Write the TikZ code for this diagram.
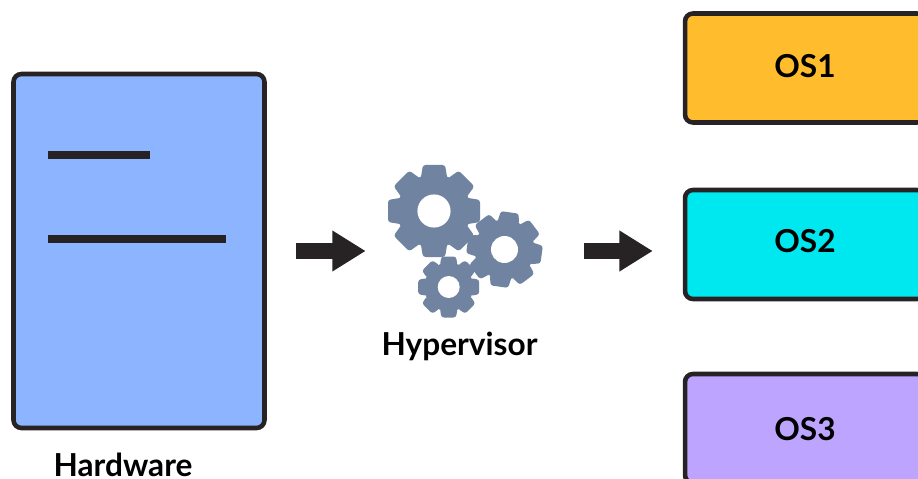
\documentclass[tikz,border=0pt]{standalone}
\usepackage{fontspec}
\setmainfont{Lato}
\usepackage{tikz}
\usetikzlibrary{arrows.meta}

\definecolor{edgegray}{HTML}{272324}
\definecolor{gearblue}{HTML}{7084A2}
\definecolor{hwblue}{HTML}{8CB4FF}
\definecolor{osyellow}{HTML}{FFBD2E}
\definecolor{oscyan}{HTML}{00E8EF}
\definecolor{ospurple}{HTML}{BDA4FF}

\tikzset{
  hwbox/.style={draw=edgegray,line width=2.6pt,rounded corners=4.5pt,inner sep=0pt},
  osbox/.style={hwbox,minimum width=4.8cm,minimum height=2.18cm},
  caption/.style={inner sep=0pt,font=\fontsize{18}{20}\selectfont\bfseries},
  bigarrow/.style={draw=edgegray,line width=9pt,-{Triangle[length=19pt,width=22pt]}},
  hwline/.style={draw=edgegray,line width=4.6pt}
}

% x, y, size, rotation
\newcommand{\gearwheel}[4]{
  \begin{scope}[shift={(#1,#2)},scale=#3,rotate=#4]
    \fill [gearblue] (0,0) circle (0.8);
    \foreach \a in {0,45,...,315}
      \fill [gearblue,rotate=\a,rounded corners=1.5pt] (-0.29,0.7) -- (-0.24,1) -- (0.24,1) -- (0.29,0.7) -- cycle;
    \fill [white] (0,0) circle (0.36);
  \end{scope}
}

\begin{document}
\begin{tikzpicture}[x=0.02cm,y=-0.02cm]
\useasboundingbox (0,0) rectangle (918,479);
\clip (0,0) rectangle (918,479);

% hardware
\node [hwbox,fill=hwblue,minimum width=5.02cm,minimum height=7.08cm] (hardware) at (139,251) {};
\coordinate (lineA) at (48,155);
\coordinate (lineB) at (48,239);
\draw [hwline] (lineA) -- +(102,0);
\draw [hwline] (lineB) -- +(178,0);
\node [caption,anchor=base] (hwlabel) at (123,476) {Hardware};

% hypervisor
\node [minimum width=3.08cm,minimum height=1pt,inner sep=0pt] (gears) at (465,251) {};
\gearwheel{434}{211}{46}{0}
\gearwheel{504.5}{249.5}{37.5}{-8}
\gearwheel{448.7}{287}{30.5}{0}
\node [caption,anchor=base] (hvlabel) at (459.5,355) {Hypervisor};

% guests
\node [osbox,fill=osyellow] (os1) at (805,68) {};
\node [osbox,fill=oscyan] (os2) at (805,244.5) {};
\node [osbox,fill=ospurple] (os3) at (805,428.5) {};
\node [caption] (os1label) at (805,66) {OS1};
\node [caption] (os2label) at (805,241) {OS2};
\node [caption] (os3label) at (805,429) {OS3};

\draw [bigarrow,shorten <=0.58cm,shorten >=0.44cm] (hardware.east) -- (gears.west);
\draw [bigarrow,shorten <=0.84cm,shorten >=0.6cm] (gears.east) -- (gears.east -| os2.west);
\end{tikzpicture}
\end{document}
